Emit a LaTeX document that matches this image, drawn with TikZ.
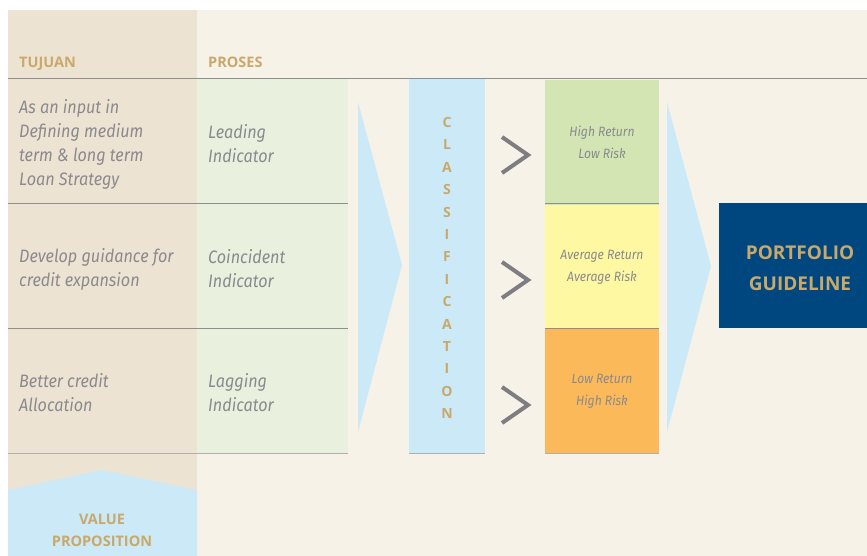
\documentclass[tikz,border=0pt]{standalone}
\usepackage{fontspec}
\setmainfont{Fira Sans}
\newfontfamily\condf{Fira Sans}[FakeStretch=0.9]
\newfontfamily\hdf{Open Sans}
\definecolor{cream}{HTML}{F6F2E8}
\definecolor{beige}{HTML}{EDE3D2}
\definecolor{greencol}{HTML}{E9F1DE}
\definecolor{lblue}{HTML}{CBE9F7}
\definecolor{gold}{HTML}{C9A96B}
\definecolor{txtgray}{HTML}{8A8A8E}
\definecolor{linegray}{HTML}{8E8E8E}
\definecolor{boxgreen}{HTML}{D3E5B3}
\definecolor{boxyellow}{HTML}{FEF8A3}
\definecolor{boxorange}{HTML}{FBB95A}
\definecolor{navy}{HTML}{00467F}
\definecolor{chevgray}{HTML}{7E7E82}
\begin{document}
\begin{tikzpicture}[x=1pt,y=-1pt,
  bodytext/.style={inner sep=0pt, anchor=west, align=left, text=txtgray,
    font=\condf\itshape\fontsize{18}{24}\selectfont},
  headtext/.style={inner sep=0pt, anchor=base west, text=gold,
    font=\hdf\bfseries\fontsize{14.5}{16}\selectfont},
  letter/.style={inner sep=0pt, text=gold, font=\hdf\bfseries\fontsize{14}{16}\selectfont},
  riskbox/.style={draw=none, minimum width=114pt, minimum height=124.5pt, inner sep=0pt,
    align=center, text=txtgray, font=\condf\itshape\fontsize{13.5}{22}\selectfont},
  rowline/.style={draw=linegray, line width=1pt},
  chev/.style={draw=chevgray, line width=4pt},
  bigtext/.style={inner sep=0pt, align=center, text=gold, font=\hdf\bfseries\fontsize{19}{31}\selectfont}
]
\useasboundingbox (0,0) rectangle (867,556);
\fill[white] (0,0) rectangle (867,556);
\fill[cream] (8,10) rectangle (867,556);
\fill[beige] (8,10) rectangle (197,556);
\fill[greencol] (197,79) rectangle (348,453);
% header line and row lines
\draw[rowline] (8,79) -- (867,79);
\draw[rowline] (8,203.5) -- (348,203.5);
\draw[rowline] (8,328) -- (348,328);
\draw[rowline, draw=linegray!70] (8,453) -- (348,453);
% headers
\node[headtext] (tujuan) at (19,68) {TUJUAN};
\node[headtext] (proses) at (208,68) {PROSES};
% tujuan texts
\node[bodytext] (t1) at (19,144) {As an input in\\Defining medium\\term \& long term\\Loan Strategy};
\node[bodytext] (t2) at (19,269) {Develop guidance for\\credit expansion};
\node[bodytext] (t3) at (19,393) {Better credit\\Allocation};
% proses texts
\node[bodytext] (p1) at (208,144) {Leading\\Indicator};
\node[bodytext] (p2) at (208,269) {Coincident\\Indicator};
\node[bodytext] (p3) at (208,393) {Lagging\\Indicator};
% big chevron 1
\fill[lblue] (358,102) -- (402,265) -- (358,432) -- cycle;
% classification band
\fill[lblue] (409,79) rectangle (485,453);
\draw[rowline, draw=linegray!70] (409,453) -- (485,453);
\foreach \l [count=\i from 0] in {C,L,A,S,S,I,F,I,C,A,T,I,O,N}
  \node[letter] (c\i) at (447,122.5+\i*22.4) {\l};
% small chevrons
\draw[chev] (502,137) -- (528,155) -- (502,173);
\draw[chev] (502,262) -- (528,280) -- (502,298);
\draw[chev] (502,387) -- (528,405) -- (502,423);
% risk boxes
\node[riskbox, fill=boxgreen] (hr) at (602,142.5) {High Return\\Low Risk};
\node[riskbox, fill=boxyellow] (ar) at (602,267) {Average Return\\Average Risk};
\node[riskbox, fill=boxorange] (lr) at (602,391.5) {Low Return\\High Risk};
\draw[rowline] (545,204) -- (659,204);
\draw[rowline] (545,328) -- (659,328);
\draw[rowline, draw=linegray!70] (545,453) -- (659,453);
% big chevron 2
\fill[lblue] (667,102) -- (711,266) -- (667,432) -- cycle;
% portfolio guideline
\fill[navy] (719,203) rectangle (867,328);
\node[bigtext] (pg) at (800,268.5) {PORTFOLIO\\GUIDELINE};
% value proposition
\fill[lblue] (8,490) -- (102,470) -- (197,490) -- (197,556) -- (8,556) -- cycle;
\node[letter, align=center, font=\hdf\bfseries\fontsize{14.5}{22}\selectfont] (vp) at (102,530) {VALUE\\PROPOSITION};
\end{tikzpicture}
\end{document}
